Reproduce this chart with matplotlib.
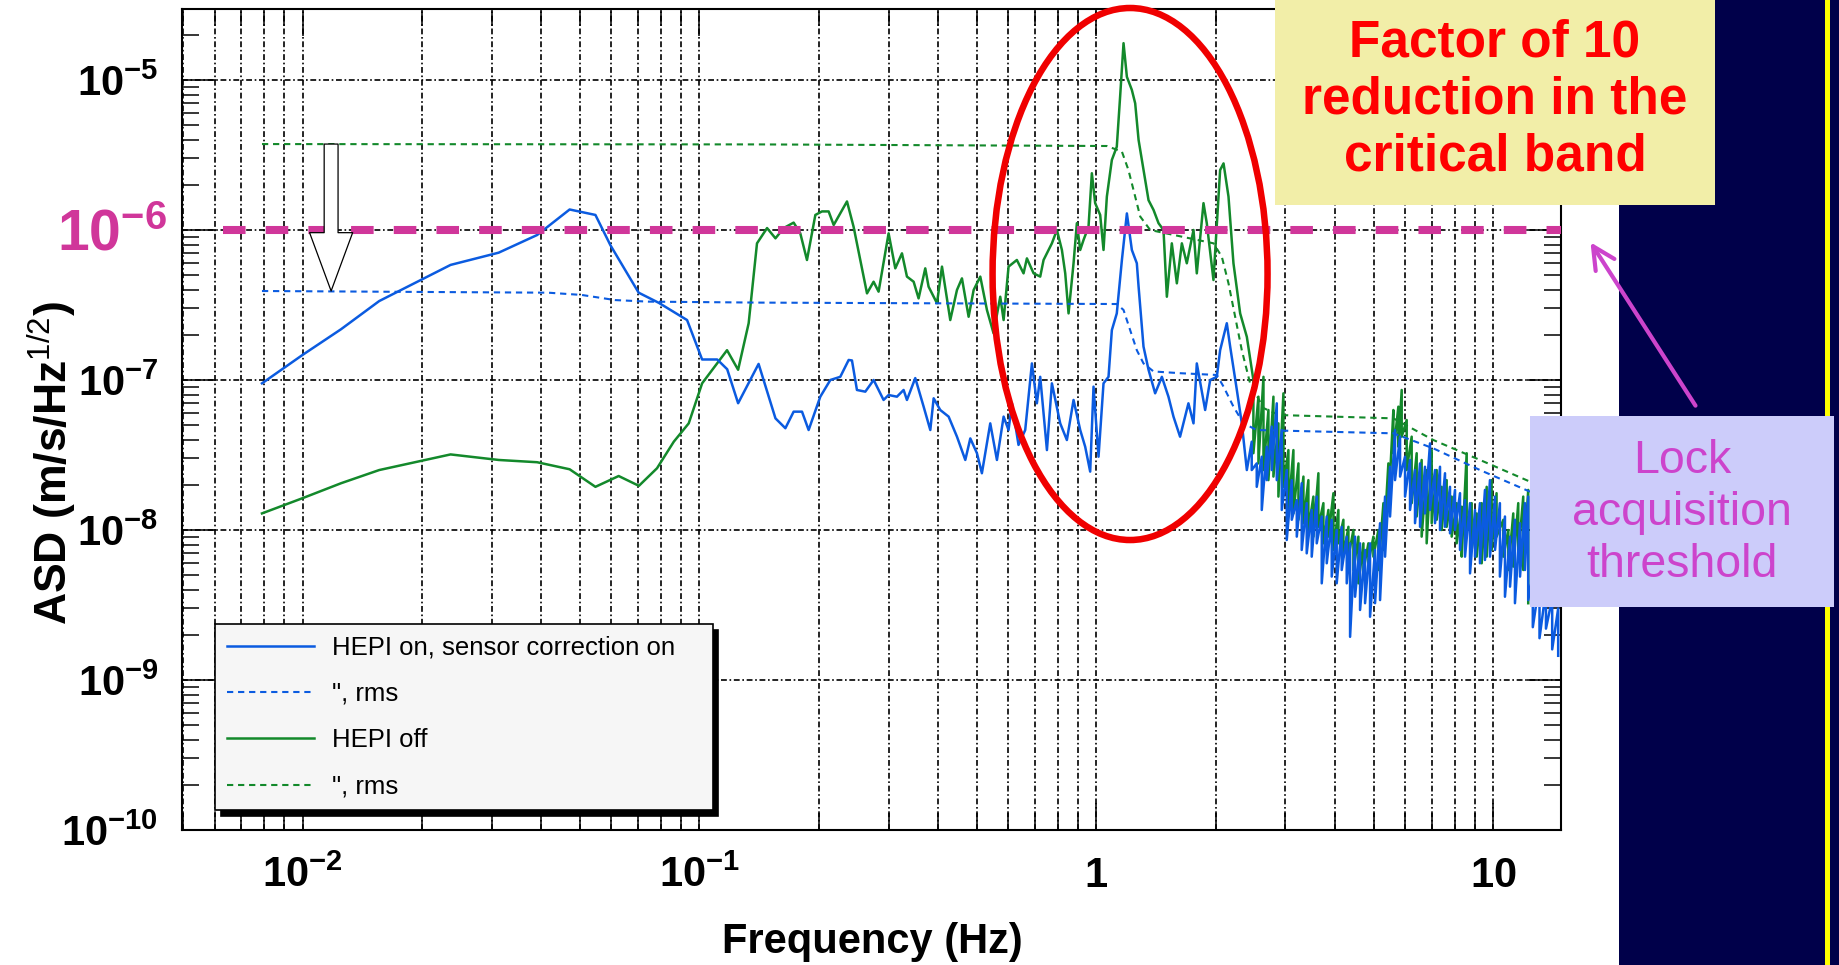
import math
import matplotlib
matplotlib.use("Agg")
import matplotlib.pyplot as plt
import matplotlib.patches as mpatches
from matplotlib.ticker import FixedLocator, FuncFormatter, NullFormatter, LogLocator
from matplotlib import font_manager

# HEPI on, sensor correction on (ASD, m/s/Hz^1/2), hasta ~2.4 Hz
blue_freq = [0.0079, 0.0100, 0.0125, 0.0156, 0.0200, 0.0236, 0.0312, 0.0390, 0.0471, 0.0547,
             0.0597, 0.0703, 0.0790, 0.0931, 0.1016, 0.1109, 0.1175, 0.1252, 0.1410, 0.1555,
             0.1647, 0.1728, 0.1814, 0.1885, 0.2017, 0.2138, 0.2265, 0.2378, 0.2424, 0.2495,
             0.2619, 0.2749, 0.2912, 0.2998, 0.3147, 0.3271, 0.3335, 0.350, 0.3674, 0.3819,
             0.3894, 0.4046, 0.4247, 0.4458, 0.4679, 0.4817, 0.5006, 0.5152, 0.5408, 0.5622,
             0.5844, 0.6014, 0.6133, 0.6372, 0.6624, 0.6887, 0.7088, 0.7227, 0.7514, 0.7734,
             0.8116, 0.8436, 0.8769, 0.9115, 0.9382, 0.9658, 0.9847, 1.0137, 1.0435, 1.0742,
             1.0952, 1.127, 1.161, 1.195, 1.230, 1.266, 1.279, 1.316, 1.355, 1.408,
             1.464, 1.521, 1.566, 1.627, 1.708, 1.759, 1.793, 1.882, 1.938, 2.014,
             2.053, 2.134, 2.176, 2.262, 2.328, 2.397]
blue_asd = [9.5e-8, 1.47e-7, 2.18e-7, 3.36e-7, 4.69e-7, 5.85e-7, 7.06e-7, 9.26e-7, 1.37e-6, 1.26e-6,
            7.9e-7, 3.82e-7, 3.27e-7, 2.51e-7, 1.37e-7, 1.37e-7, 1.18e-7, 7.0e-8, 1.28e-7, 5.55e-8,
            4.77e-8, 6.15e-8, 6.15e-8, 4.64e-8, 7.74e-8, 1.0e-7, 1.05e-7, 1.36e-7, 1.35e-7, 8.58e-8,
            8.36e-8, 1.0e-7, 7.36e-8, 7.94e-8, 7.74e-8, 8.58e-8, 7.36e-8, 1.03e-7, 6.64e-8, 4.64e-8,
            7.55e-8, 6.31e-8, 5.7e-8, 4.19e-8, 2.93e-8, 4.08e-8, 3.25e-8, 2.39e-8, 5.14e-8, 2.93e-8,
            5.7e-8, 4.64e-8, 6.99e-8, 3.69e-8, 4.64e-8, 1.29e-7, 6.99e-8, 1.05e-7, 3.41e-8, 9.5e-8,
            5.14e-8, 3.98e-8, 7.36e-8, 4.64e-8, 3.59e-8, 2.45e-8, 9.03e-8, 3.08e-8, 9.5e-8, 1.05e-7,
            2.15e-7, 2.78e-7, 6.31e-7, 1.29e-6, 7.36e-7, 6.0e-7, 4.19e-7, 1.67e-7, 1.17e-7, 8.15e-8,
            1.05e-7, 7.74e-8, 5.7e-8, 4.19e-8, 6.99e-8, 5.14e-8, 1.29e-7, 6.31e-8, 1.0e-7, 1.05e-7,
            1.58e-7, 2.39e-7, 1.67e-7, 8.58e-8, 5.14e-8, 2.51e-8]

blue_band_freq = [2.466, 2.539, 2.614, 2.691, 2.770, 2.852, 2.936, 3.022, 3.111, 3.203,
                  3.296, 3.393, 3.493, 3.596, 3.702, 3.811, 3.923, 4.038, 4.157, 4.280,
                  4.364, 4.492, 4.624, 4.760, 4.900, 5.044, 5.193, 5.346, 5.503, 5.664,
                  5.832, 6.003, 6.180, 6.361, 6.549, 6.741, 6.939, 7.144, 7.354, 7.570,
                  7.793, 8.023, 8.259, 8.502, 8.753, 9.010, 9.273, 9.546, 9.827, 10.12,
                  10.41, 10.72, 11.04, 11.36, 11.70, 12.04, 12.27, 12.6, 13.1, 13.6,
                  14.1, 14.6]
blue_band_top = [3.88e-8, 2.78e-8, 3.08e-8, 3.59e-8, 4.89e-8, 6.99e-8, 4.64e-8, 2.51e-8, 2.15e-8, 1.58e-8,
                 2.05e-8, 1.51e-8, 1.36e-8, 1.67e-8, 1.23e-8, 1.23e-8, 1.17e-8, 1.0e-8, 1.05e-8, 9.03e-9,
                 8.15e-9, 9.03e-9, 8.15e-9, 7.36e-9, 8.15e-9, 7.36e-9, 1.11e-8, 1.67e-8, 2.64e-8, 4.64e-8,
                 4.19e-8, 3.08e-8, 2.93e-8, 2.51e-8, 2.78e-8, 2.64e-8, 3.78e-8, 2.51e-8, 2.64e-8, 2.39e-8,
                 1.94e-8, 1.85e-8, 1.76e-8, 1.58e-8, 1.51e-8, 1.36e-8, 1.51e-8, 1.85e-8, 2.15e-8, 1.67e-8,
                 1.51e-8, 1.23e-8, 9.03e-9, 1.17e-8, 1.11e-8, 1.51e-8, 1.67e-8, 5.0e-9, 4.5e-9, 4.0e-9,
                 3.5e-9, 3.0e-9]
blue_band_bottom = [2.51e-8, 1.94e-8, 1.36e-8, 2.15e-8, 2.51e-8, 2.15e-8, 1.36e-8, 8.58e-9, 1.17e-8, 9.03e-9,
                    7.36e-9, 6.99e-9, 6.64e-9, 8.15e-9, 4.41e-9, 6.0e-9, 4.89e-9, 4.41e-9, 5.41e-9, 4.41e-9,
                    1.94e-9, 3.59e-9, 2.93e-9, 3.25e-9, 2.64e-9, 3.25e-9, 3.41e-9, 6.64e-9, 1.23e-8, 2.15e-8,
                    2.27e-8, 1.67e-8, 1.36e-8, 1.11e-8, 1.05e-8, 1.29e-8, 1.36e-8, 1.11e-8, 1.0e-8, 1.05e-8,
                    9.5e-9, 1.0e-8, 7.36e-9, 6.64e-9, 5.14e-9, 6.64e-9, 6.0e-9, 6.31e-9, 6.64e-9, 7.36e-9,
                    4.89e-9, 3.59e-9, 4.19e-9, 3.25e-9, 4.89e-9, 5.41e-9, 3.41e-9, 2.25e-9, 1.9e-9, 2.2e-9,
                    1.6e-9, 1.45e-9]

blue_rms_freq = [0.0079, 0.0416, 0.0505, 0.0613, 0.0744, 0.1424, 1.127, 1.172, 1.218, 1.266,
                 1.316, 1.395, 1.627, 2.014, 2.094, 2.218, 2.351, 2.539, 5.61, 7.075, 9.275, 12.4]
blue_rms = [3.92e-7, 3.82e-7, 3.69e-7, 3.41e-7, 3.33e-7, 3.28e-7, 3.21e-7, 2.93e-7, 2.15e-7, 1.58e-7,
            1.29e-7, 1.14e-7, 1.11e-7, 1.08e-7, 9.03e-8, 6.64e-8, 5.14e-8, 4.64e-8, 4.41e-8, 3.5e-8,
            2.51e-8, 1.8e-8]

# HEPI off, hasta ~2.4 Hz
green_freq = [0.0079, 0.0100, 0.0125, 0.0156, 0.0200, 0.0236, 0.0312, 0.0390, 0.0471, 0.0547,
              0.0626, 0.0704, 0.0782, 0.0862, 0.0940, 0.1016, 0.1174, 0.1252, 0.1331, 0.1397,
              0.1481, 0.1555, 0.1631, 0.1728, 0.1796, 0.1867, 0.1960, 0.2037, 0.2117, 0.2180,
              0.2355, 0.2447, 0.2645, 0.2748, 0.2829, 0.2998, 0.3117, 0.3240, 0.3335, 0.3467,
              0.3568, 0.3709, 0.3781, 0.3970, 0.4087, 0.4288, 0.4458, 0.4589, 0.4770, 0.4911,
              0.5104, 0.5305, 0.5512, 0.5731, 0.5844, 0.6014, 0.6311, 0.6561, 0.6690, 0.6955,
              0.7227, 0.7369, 0.7734, 0.7962, 0.8196, 0.8356, 0.8519, 0.8769, 0.8940, 0.9115,
              0.9292, 0.9565, 0.9752, 0.9942, 1.0235, 1.0435, 1.0639, 1.0952, 1.127, 1.149,
              1.172, 1.195, 1.230, 1.254, 1.279, 1.316, 1.355, 1.395, 1.436, 1.478,
              1.507, 1.551, 1.597, 1.644, 1.692, 1.759, 1.793, 1.864, 1.900, 1.975,
              2.053, 2.094, 2.155, 2.218, 2.306, 2.397]
green_asd = [1.29e-8, 1.63e-8, 2.05e-8, 2.51e-8, 2.9e-8, 3.19e-8, 2.93e-8, 2.83e-8, 2.54e-8, 1.94e-8,
             2.29e-8, 1.97e-8, 2.58e-8, 3.88e-8, 5.14e-8, 9.5e-8, 1.58e-7, 1.17e-7, 2.39e-7, 8.15e-7,
             1.03e-6, 8.8e-7, 1.03e-6, 1.12e-6, 9.5e-7, 6.31e-7, 1.26e-6, 1.33e-6, 1.33e-6, 1.08e-6,
             1.55e-6, 1.05e-6, 3.78e-7, 4.52e-7, 3.88e-7, 9.5e-7, 5.55e-7, 6.99e-7, 4.89e-7, 4.52e-7,
             3.5e-7, 5.55e-7, 4.19e-7, 3.25e-7, 5.7e-7, 2.51e-7, 3.98e-7, 4.76e-7, 2.64e-7, 3.98e-7,
             4.89e-7, 2.93e-7, 2.05e-7, 3.59e-7, 2.51e-7, 5.7e-7, 6.31e-7, 5.14e-7, 6.47e-7, 5.14e-7,
             4.89e-7, 6.31e-7, 8.15e-7, 1.0e-6, 7.36e-7, 5.14e-7, 2.78e-7, 6.0e-7, 1.11e-6, 7.36e-7,
             8.58e-7, 1.05e-6, 2.39e-6, 1.51e-6, 1.26e-6, 7.36e-7, 1.67e-6, 2.93e-6, 3.59e-6, 7.74e-6,
             1.76e-5, 1.05e-5, 8.58e-6, 6.99e-6, 3.98e-6, 2.51e-6, 1.58e-6, 1.36e-6, 1.11e-6, 1.0e-6,
             3.59e-7, 8.15e-7, 4.41e-7, 8.15e-7, 6.0e-7, 1.0e-6, 5.14e-7, 1.51e-6, 1.11e-6, 4.64e-7,
             2.51e-6, 2.78e-6, 1.67e-6, 6.0e-7, 2.78e-7, 1.94e-7]

green_band_freq = [2.490, 2.564, 2.640, 2.717, 2.797, 2.879, 2.964, 3.051, 3.141, 3.234,
                   3.329, 3.426, 3.527, 3.631, 3.738, 3.848, 3.962, 4.078, 4.198, 4.322,
                   4.449, 4.580, 4.715, 4.853, 4.996, 5.143, 5.295, 5.450, 5.610, 5.775,
                   5.888, 6.061, 6.239, 6.423, 6.611, 6.806, 7.007, 7.213, 7.425, 7.644,
                   7.869, 8.101, 8.340, 8.585, 8.838, 9.098, 9.366, 9.641, 9.922, 10.21,
                   10.62, 10.93, 11.25, 11.58, 11.92, 12.27]
green_band_top = [1.0e-7, 7.74e-8, 1.05e-7, 6.31e-8, 7.74e-8, 5.14e-8, 8.15e-8, 3.41e-8, 3.41e-8, 2.78e-8,
                  2.27e-8, 2.15e-8, 1.67e-8, 2.39e-8, 1.51e-8, 1.36e-8, 1.76e-8, 1.36e-8, 1.17e-8, 1.05e-8,
                  1.0e-8, 9.03e-9, 8.15e-9, 8.15e-9, 9.03e-9, 1.0e-8, 1.51e-8, 2.78e-8, 6.31e-8, 6.64e-8,
                  8.58e-8, 5.41e-8, 4.19e-8, 3.25e-8, 2.93e-8, 2.51e-8, 3.41e-8, 2.51e-8, 1.94e-8, 2.15e-8,
                  1.67e-8, 1.51e-8, 1.43e-8, 3.25e-8, 1.51e-8, 1.29e-8, 1.51e-8, 1.94e-8, 2.15e-8, 1.76e-8,
                  1.17e-8, 1.0e-8, 1.29e-8, 1.51e-8, 1.67e-8, 1.85e-8]
green_band_bottom = [3.25e-8, 2.78e-8, 2.51e-8, 2.15e-8, 2.27e-8, 1.67e-8, 1.94e-8, 1.36e-8, 1.29e-8, 1.17e-8,
                     1.11e-8, 1.0e-8, 9.03e-9, 1.05e-8, 8.15e-9, 9.03e-9, 7.36e-9, 8.15e-9, 6.64e-9, 6.64e-9,
                     5.41e-9, 4.41e-9, 5.41e-9, 6.0e-9, 6.64e-9, 5.41e-9, 7.36e-9, 1.36e-8, 3.25e-8, 3.59e-8,
                     4.19e-8, 2.51e-8, 1.51e-8, 1.23e-8, 9.03e-9, 8.15e-9, 1.11e-8, 1.17e-8, 1.0e-8, 1.05e-8,
                     9.03e-9, 8.15e-9, 6.64e-9, 1.0e-8, 7.36e-9, 6.64e-9, 6.0e-9, 6.64e-9, 7.36e-9, 9.03e-9,
                     6.64e-9, 5.41e-9, 5.7e-9, 6.64e-9, 5.41e-9, 3.25e-9]

green_rms_freq = [0.0079, 0.1424, 1.064, 1.161, 1.206, 1.254, 1.291, 1.368, 1.975, 2.073,
                  2.155, 2.240, 2.328, 2.443, 2.640, 2.89, 5.61, 7.075, 9.275, 12.4]
green_rms = [3.74e-6, 3.72e-6, 3.63e-6, 3.33e-6, 2.51e-6, 1.67e-6, 1.23e-6, 1.0e-6, 8.15e-7, 6.64e-7,
             4.41e-7, 2.64e-7, 1.58e-7, 9.5e-8, 6.5e-8, 5.84e-8, 5.55e-8, 3.98e-8, 2.93e-8, 2.1e-8]

threshold = 1e-6
arrow_freq = 0.0118
xticks = [0.01, 0.1, 1, 10]
yticks = [1e-10, 1e-9, 1e-8, 1e-7, 1e-6, 1e-5]

BLUE = "#0b5be0"
GREEN = "#13892b"
PINK = "#d0369a"
ORCHID = "#cc44cc"


def with_band(freq, asd, band_f, top, bottom):
    f_out, v_out = list(freq), list(asd)
    for f, t, b in zip(band_f, top, bottom):
        f_out += [f, f]
        v_out += [t, b]
    return f_out, v_out


blue_f_all, blue_v_all = with_band(blue_freq, blue_asd, blue_band_freq, blue_band_top, blue_band_bottom)
green_f_all, green_v_all = with_band(green_freq, green_asd, green_band_freq, green_band_top, green_band_bottom)

# fuentes
names = {f.name for f in font_manager.fontManager.ttflist}
NARROW = "Liberation Sans Narrow" if "Liberation Sans Narrow" in names else "Liberation Sans"
plt.rcParams["font.family"] = "Liberation Sans"
plt.rcParams["mathtext.fontset"] = "custom"
plt.rcParams["mathtext.rm"] = NARROW
plt.rcParams["mathtext.bf"] = NARROW + ":bold"
plt.rcParams["mathtext.it"] = NARROW + ":italic"

fig = plt.figure(figsize=(18.39, 9.65), dpi=100)
ax = fig.add_axes([0.09897, 0.1399, 0.74986, 0.85078])

ax.plot(blue_f_all, blue_v_all, color=BLUE, lw=1.8, zorder=3, label="HEPI on, sensor correction on")
ax.plot(blue_rms_freq, blue_rms, color=BLUE, lw=1.5, dashes=(3, 2.3), zorder=3, label='", rms')
ax.plot(green_f_all, green_v_all, color=GREEN, lw=1.8, zorder=2.5, label="HEPI off")
ax.plot(green_rms_freq, green_rms, color=GREEN, lw=1.5, dashes=(3, 2.3), zorder=2.5, label='", rms')

ax.set_xscale("log")
ax.set_yscale("log")
ax.set_xlim(0.004967, 14.84)
ax.set_ylim(1e-10, 2.974e-5)

ax.xaxis.set_major_locator(FixedLocator(xticks))
ax.xaxis.set_minor_locator(LogLocator(base=10, subs=range(2, 10), numticks=30))
ax.yaxis.set_major_locator(FixedLocator(yticks))
ax.yaxis.set_minor_locator(LogLocator(base=10, subs=range(2, 10), numticks=30))
ax.xaxis.set_minor_formatter(NullFormatter())
ax.yaxis.set_minor_formatter(NullFormatter())


def fmt_x(v, pos):
    e = int(round(math.log10(v)))
    if e == 0:
        return r"$\mathbf{1}$"
    if e == 1:
        return r"$\mathbf{10}$"
    return r"$\mathbf{10^{%d}}$" % e


def fmt_y(v, pos):
    e = int(round(math.log10(v)))
    if v == threshold:
        return ""
    return r"$\mathbf{10^{%d}}$" % e


ax.xaxis.set_major_formatter(FuncFormatter(fmt_x))
ax.yaxis.set_major_formatter(FuncFormatter(fmt_y))

ax.tick_params(which="both", direction="in", top=True, right=True, width=1.1, colors="black")
ax.tick_params(axis="y", which="major", length=24.5, pad=17, labelsize=30)
ax.tick_params(axis="y", which="minor", length=12)
ax.tick_params(axis="x", which="major", length=19.5, pad=41, labelsize=30)
ax.tick_params(axis="x", which="minor", length=12)
for lab in ax.get_xticklabels():
    lab.set_va("baseline")
for lab in ax.get_yticklabels():
    lab.set_va("center_baseline")

grid_style = dict(color="black", lw=1.2, ls=(0, (3.5, 1.6, 1, 1.6)))
ax.grid(True, which="major", axis="both", **grid_style)
ax.grid(True, which="minor", axis="x", **grid_style)
for s in ax.spines.values():
    s.set_linewidth(1.5)

ax.set_xlabel("Frequency (Hz)", fontsize=30, fontweight="bold")
ax.xaxis.set_label_coords(0.5004, -0.1364)
ax.xaxis.label.set_va("center")
ax.set_ylabel(r"ASD (m/s/Hz$^{\mathrm{1/2}}$)", fontsize=32, fontweight="bold")
ax.yaxis.set_label_coords(-0.0943, 0.447)
ax.yaxis.label.set_va("center")

# umbral de adquisicion
ax.axhline(threshold, xmin=0.0297, color=PINK, lw=5.8, dashes=(2.8, 2.5), zorder=4)
ax.annotate(r"$\mathbf{10^{-6}}$", xy=(0, threshold), xycoords=("axes fraction", "data"),
            xytext=(-11, 0), textcoords="offset points", ha="right", va="center_baseline",
            fontsize=41, color=PINK, annotation_clip=False)

# flecha hueca: rms HEPI off -> rms HEPI on
ax.annotate("", xy=(arrow_freq, blue_rms[0]), xytext=(arrow_freq, green_rms[0]),
            arrowprops=dict(arrowstyle="simple,head_length=42,head_width=31,tail_width=10",
                            mutation_scale=1, fc="white", ec="black", lw=0.9,
                            shrinkA=0, shrinkB=0), zorder=4)

ax.add_patch(mpatches.Ellipse((0.6875, 0.6772), 0.1994, 0.648, transform=ax.transAxes,
                              fill=False, ec="#f00000", lw=4.7, zorder=6, clip_on=False))

leg = ax.legend(loc="upper left", bbox_to_anchor=(0.0239, 0.0292, 0.361, 0.2217), mode="expand",
                borderaxespad=0, fontsize=18.5, handlelength=3.42, handletextpad=0.7,
                labelspacing=0.87, borderpad=0.45, fancybox=False, framealpha=1,
                facecolor="#f6f6f6", edgecolor="black")
leg.get_frame().set_linewidth(1.2)
shadow = mpatches.Shadow(leg.legendPatch, 4, -4, facecolor="black", edgecolor="black", alpha=1)
shadow.set_zorder(4.9)
ax.add_artist(shadow)

# anotaciones de la diapositiva
fig.add_artist(mpatches.Rectangle((0.8804, 0), 0.1196, 1, transform=fig.transFigure,
                                  fc="#00004a", ec="none", zorder=8))
fig.add_artist(mpatches.Rectangle((1825 / 1839, 0), 5 / 1839, 1, transform=fig.transFigure,
                                  fc="#ffff00", ec="none", zorder=8.5))
fig.add_artist(mpatches.Rectangle((0.6933, 0.7876), 0.2393, 0.2124, transform=fig.transFigure,
                                  fc="#f2eea8", ec="none", zorder=10))
fig.text(0.8129, 0.8964, "Factor of 10\nreduction in the\ncritical band", ha="center", va="center",
         color="#ff0000", fontsize=37, fontweight="bold", linespacing=1.2, zorder=11)
fig.add_artist(mpatches.FancyArrowPatch((1697 / 1839, 1 - 408 / 965), (1589 / 1839, 1 - 240 / 965),
                                        transform=fig.transFigure, mutation_scale=1,
                                        arrowstyle="->,head_length=16,head_width=8",
                                        color=ORCHID, lw=3, zorder=9))
fig.add_artist(mpatches.Rectangle((0.832, 0.371), 0.1653, 0.198, transform=fig.transFigure,
                                  fc="#ccccfa", ec="none", zorder=12))
fig.text(0.9146, 0.4684, "Lock\nacquisition\nthreshold", ha="center", va="center",
         color=ORCHID, fontsize=33.5, linespacing=1.23, zorder=13)

fig.canvas.draw()
fig.savefig("out.png", dpi=100)
